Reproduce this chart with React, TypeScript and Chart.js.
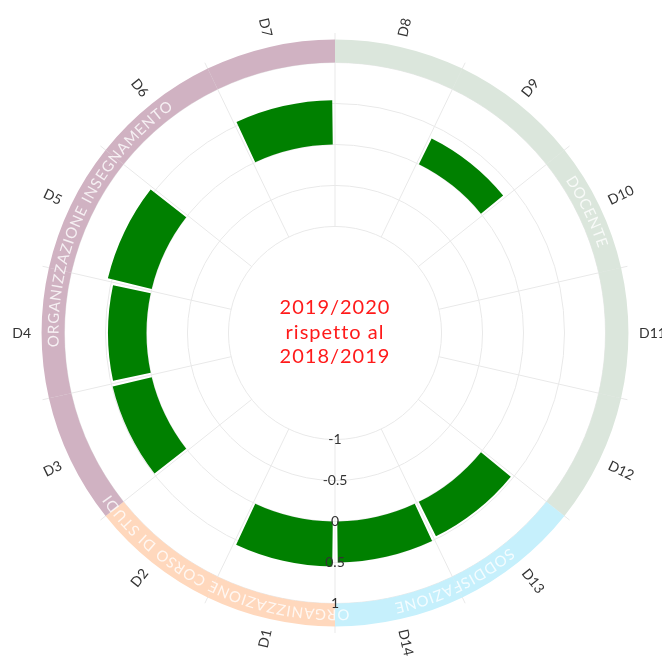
import React, { useEffect, useRef } from 'react';
import { Chart, registerables, PolarAreaController } from 'chart.js';

Chart.register(...registerables);

// ---- data ----
const CATEGORIES = ['D1', 'D2', 'D3', 'D4', 'D5', 'D6', 'D7', 'D8', 'D9', 'D10', 'D11', 'D12', 'D13', 'D14'];
const VALUES: (number | null)[] = [0.55, null, 0.49, 0.47, 0.55, null, 0.54, null, 0.35, null, null, null, 0.47, 0.5];
const BAR_BASE = 0;
const CATEGORY_GROUP = [0, 0, 1, 1, 1, 1, 1, 2, 2, 2, 2, 2, 3, 3];
const GROUP_NAMES = ['ORGANIZZAZIONE CORSO DI STUDI', 'ORGANIZZAZIONE INSEGNAMENTO', 'DOCENTE', 'SODDISFAZIONE'];
const GROUP_COLORS = ['#ffd8bd', '#d0b2c2', '#dbe6dc', '#c6f0fc'];
const TICK_VALUES = [-1, -0.5, 0, 0.5, 1];
const TICK_LABELS = ['-1', '-0.5', '0', '0.5', '1'];
const BAND_FROM = 1;
const BAND_TO = 1.28;
const SCALE_MIN = -2.3;
const SCALE_MAX = 1.36;
const CENTER_TEXT = ['2019/2020', 'rispetto al', '2018/2019'];

// floating radial bars: polar-area arcs with an inner radius taken from the scale
class RadialBarController extends (PolarAreaController as any) {
  static id = 'radialBar';
  updateElement(el: any, index: number, props: any, mode: any) {
    if (props && props.startAngle !== undefined && props.outerRadius !== undefined) {
      const scale = (this as any)._cachedMeta.rScale;
      const ds: any = (this as any).getDataset();
      const raw = ds.data[index];
      if (raw === null || raw === undefined) {
        props.innerRadius = 0;
        props.outerRadius = 0;
      } else {
        const inner = scale.getDistanceFromCenterForValue(ds.base ?? 0);
        const outer = props.outerRadius;
        props.innerRadius = inner;
        const gap = ds.gapPx || 0;
        if (gap) {
          const rm = (inner + outer) / 2;
          const d = gap / rm;
          props.startAngle += d;
          props.endAngle -= d;
        }
      }
    }
    super.updateElement(el, index, props, mode);
  }
}
Chart.register(RadialBarController as any);

const FONT = 'Lato, "Open Sans", sans-serif';

const labelsPlugin = {
  id: 'radialLabels',
  afterDatasetsDraw(chart: any) {
    const s = chart.scales.r;
    const ctx: CanvasRenderingContext2D = chart.ctx;
    const cx = s.xCenter;
    const cy = s.yCenter;
    const n = CATEGORIES.length;
    const step = (2 * Math.PI) / n;
    const TAU = 2 * Math.PI;

    // curved group names on the band
    const rIn = s.getDistanceFromCenterForValue(BAND_FROM);
    const rOut = s.getDistanceFromCenterForValue(BAND_TO);
    const R = (rIn + rOut) / 2;
    ctx.save();
    ctx.font = `15px ${FONT}`;
    ctx.fillStyle = 'rgba(255,255,255,0.8)';
    ctx.textAlign = 'center';
    ctx.textBaseline = 'alphabetic';
    const capOff = (15 * 0.72) / 2;
    const spacing = 1;
    GROUP_NAMES.forEach((name, g) => {
      const idx = CATEGORY_GROUP.map((gg, i) => (gg === g ? i : -1)).filter((i) => i >= 0);
      const center = s.getIndexAngle(idx[0]) + (idx.length * step) / 2;
      const chars = [...name];
      const widths = chars.map((ch) => ctx.measureText(ch).width);
      const total = widths.reduce((a, b) => a + b, 0) + spacing * (chars.length - 1);
      let acc = -total / 2;
      chars.forEach((ch, k) => {
        const w = widths[k];
        const th = center + (acc + w / 2) / R;
        ctx.save();
        ctx.translate(cx + R * Math.sin(th), cy - R * Math.cos(th));
        ctx.rotate(th);
        ctx.fillText(ch, 0, capOff);
        ctx.restore();
        acc += w + spacing;
      });
    });
    ctx.restore();

    // category labels
    ctx.save();
    ctx.font = `14px ${FONT}`;
    ctx.fillStyle = '#333';
    ctx.textBaseline = 'middle';
    const dist = s.drawingArea + 4;
    CATEGORIES.forEach((lab, i) => {
      const a = (((s.getIndexAngle(i) + step / 2) % TAU) + TAU) % TAU;
      const x = cx + dist * Math.sin(a);
      const y = cy - dist * Math.cos(a);
      ctx.save();
      ctx.translate(x, y);
      if (a < Math.PI) {
        ctx.rotate(a - Math.PI / 2);
        ctx.textAlign = 'left';
      } else {
        ctx.rotate(a - (3 * Math.PI) / 2);
        ctx.textAlign = 'right';
      }
      ctx.fillText(lab, 0, 0);
      ctx.restore();
    });
    ctx.restore();

    // radial tick labels along the start-angle spoke
    ctx.save();
    ctx.font = `14px ${FONT}`;
    ctx.fillStyle = '#333';
    ctx.textAlign = 'center';
    ctx.textBaseline = 'middle';
    TICK_VALUES.forEach((v, i) => {
      const p = s.getPointPosition(0, s.getDistanceFromCenterForValue(v));
      ctx.fillText(TICK_LABELS[i], p.x, p.y);
    });
    ctx.restore();

    // center text
    ctx.save();
    ctx.font = `20px ${FONT}`;
    (ctx as any).letterSpacing = '1px';
    ctx.fillStyle = '#ff1a1a';
    ctx.textAlign = 'center';
    ctx.textBaseline = 'alphabetic';
    CENTER_TEXT.forEach((t, i) => {
      ctx.fillText(t, cx, cy + 5.5 + (i - 1) * 24.5);
    });
    ctx.restore();
  },
};

export default function App() {
  const ref = useRef<HTMLCanvasElement | null>(null);
  useEffect(() => {
    if (!ref.current) return;
    const dashParts = (c: any) => {
      const s = c.scale || c.chart.scales.r;
      const r0 = s.getDistanceFromCenterForValue(TICK_VALUES[0]);
      const R = s.getDistanceFromCenterForValue(s.max);
      return { r0, R };
    };
    const chart = new Chart(ref.current, {
      type: 'radialBar' as any,
      data: {
        labels: CATEGORIES,
        datasets: [
          {
            data: VALUES as any,
            base: BAR_BASE,
            gapPx: 2.5,
            backgroundColor: '#008000',
            borderWidth: 0,
          } as any,
          {
            data: CATEGORIES.map(() => BAND_TO),
            base: BAND_FROM,
            gapPx: 0,
            backgroundColor: CATEGORY_GROUP.map((g) => GROUP_COLORS[g]),
            borderWidth: 0,
          } as any,
        ],
      },
      options: {
        animation: false,
        responsive: true,
        maintainAspectRatio: false,
        events: [],
        layout: { padding: { left: 27, right: 27, top: 25, bottom: 24 } },
        plugins: { legend: { display: false }, tooltip: { enabled: false } },
        scales: {
          r: {
            type: 'radialLinear',
            min: SCALE_MIN,
            max: SCALE_MAX,
            startAngle: 180,
            afterBuildTicks: (sc: any) => {
              sc.ticks = TICK_VALUES.map((v) => ({ value: v }));
            },
            ticks: { display: false },
            grid: { circular: true, color: '#e9e9e9', lineWidth: 1 },
            angleLines: {
              display: true,
              color: '#e9e9e9',
              lineWidth: 1,
              borderDash: (c: any) => {
                const { r0, R } = dashParts(c);
                return [R - r0, r0];
              },
              borderDashOffset: (c: any) => {
                const { r0, R } = dashParts(c);
                return R - r0;
              },
            },
            pointLabels: { display: false },
          } as any,
        },
      } as any,
      plugins: [labelsPlugin],
    });
    return () => chart.destroy();
  }, []);
  return (
    <div style={{ position: 'absolute', left: 8, top: 8, width: 654, height: 649 }}>
      <canvas ref={ref} />
    </div>
  );
}
